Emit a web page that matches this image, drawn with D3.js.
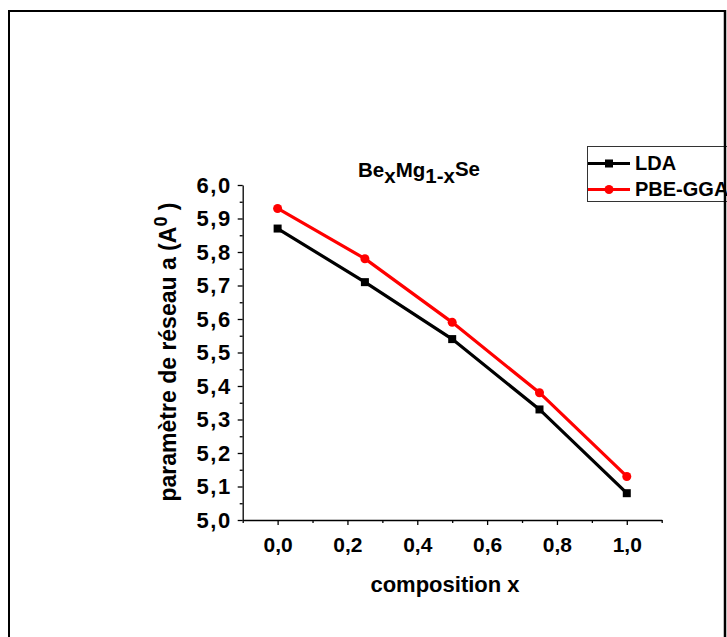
<!DOCTYPE html>
<html>
<head>
<meta charset="utf-8">
<script src="https://cdn.jsdelivr.net/npm/d3@7"></script>
<style>
body { margin: 0; background: #fff; }
svg { display: block; font-family: Arial, "Liberation Sans", sans-serif; }
</style>
</head>
<body>
<svg width="727" height="637"></svg>
<script>
// composition x
var compositions = [0.0, 0.25, 0.5, 0.75, 1.0];
// lattice parameter a, LDA and PBE-GGA
var ldaValues = [5.87, 5.71, 5.54, 5.33, 5.08];
var ggaValues = [5.93, 5.78, 5.59, 5.38, 5.13];
var seriesNames = ["LDA", "PBE-GGA"];
var xTicks = [0, 0.2, 0.4, 0.6, 0.8, 1.0];
var yTicks = [5.0, 5.1, 5.2, 5.3, 5.4, 5.5, 5.6, 5.7, 5.8, 5.9, 6.0];

var svg = d3.select("svg");

// outer frame (bottom edge falls outside the picture)
svg.append("rect")
  .attr("x", 9).attr("y", 11)
  .attr("width", 716).attr("height", 700)
  .attr("fill", "none").attr("stroke", "#000").attr("stroke-width", 2);

var xScale = d3.scaleLinear().domain([-0.1, 1.1]).range([242.7, 661.7]);
var yScale = d3.scaleLinear().domain([5.0, 6.0]).range([520, 185]);

var fmt = function(d) { return d3.format(".1f")(d).replace(".", ","); };

// x axis
var gx = svg.append("g").attr("transform", "translate(0,520)")
  .call(d3.axisBottom(xScale).tickValues(xTicks).tickFormat(fmt).tickSize(5).tickSizeOuter(0).tickPadding(12));
svg.append("g").attr("transform", "translate(0,520)")
  .call(d3.axisBottom(xScale).tickValues(d3.range(-0.1, 1.15, 0.2)).tickFormat("").tickSize(3).tickSizeOuter(0))
  .select(".domain").remove();

// y axis
var gy = svg.append("g").attr("transform", "translate(242.7,0)")
  .call(d3.axisLeft(yScale).tickValues(yTicks).tickFormat(fmt).tickSize(5).tickSizeOuter(0).tickPadding(6));
svg.append("g").attr("transform", "translate(242.7,0)")
  .call(d3.axisLeft(yScale).tickValues(d3.range(5.05, 6.0, 0.1)).tickFormat("").tickSize(3).tickSizeOuter(0))
  .select(".domain").remove();

svg.selectAll(".domain, .tick line").attr("stroke", "#000").attr("stroke-width", 1.3);
svg.selectAll(".tick text")
  .attr("fill", "#000")
  .style("font-weight", "bold")
  .style("font-family", "Arial, 'Liberation Sans', sans-serif");
gx.selectAll(".tick text").style("font-size", "21px");
gy.selectAll(".tick text").style("font-size", "22px").style("letter-spacing", "1.5px");

// axis titles
svg.append("text")
  .attr("x", 445).attr("y", 592)
  .attr("text-anchor", "middle")
  .style("font-size", "22px").style("font-weight", "bold")
  .text("composition x");

var yt = svg.append("text")
  .attr("transform", "translate(176,352) rotate(-90)")
  .attr("text-anchor", "middle")
  .style("font-size", "23px").style("font-weight", "bold");
yt.append("tspan").text("paramètre de réseau a (A");
yt.append("tspan").attr("dy", -9).style("font-size", "18px").text("0");
yt.append("tspan").attr("dy", 9).text(" )");

// chart title
var title = svg.append("text")
  .attr("x", 358).attr("y", 177)
  .style("font-size", "20.5px").style("font-weight", "bold");
title.append("tspan").text("Be");
title.append("tspan").attr("dy", 6).text("x");
title.append("tspan").attr("dy", -6).text("Mg");
title.append("tspan").attr("dy", 6).text("1-x");
title.append("tspan").attr("dy", -7).text("Se");

// series
var series = [
  { name: seriesNames[0], values: ldaValues, color: "#000", marker: "square" },
  { name: seriesNames[1], values: ggaValues, color: "#f00", marker: "circle" }
];

var line = d3.line()
  .x(function(d) { return xScale(d[0]); })
  .y(function(d) { return yScale(d[1]); });

series.forEach(function(s) {
  var pts = compositions.map(function(c, i) { return [c, s.values[i]]; });
  svg.append("path")
    .datum(pts)
    .attr("d", line)
    .attr("fill", "none")
    .attr("stroke", s.color)
    .attr("stroke-width", 3.2);
  if (s.marker === "square") {
    svg.selectAll(null).data(pts).enter().append("rect")
      .attr("x", function(d) { return xScale(d[0]) - 4; })
      .attr("y", function(d) { return yScale(d[1]) - 4; })
      .attr("width", 8).attr("height", 8)
      .attr("fill", s.color);
  } else {
    svg.selectAll(null).data(pts).enter().append("circle")
      .attr("cx", function(d) { return xScale(d[0]); })
      .attr("cy", function(d) { return yScale(d[1]); })
      .attr("r", 4.5)
      .attr("fill", s.color);
  }
});

// legend
var legend = svg.append("g");
legend.append("rect")
  .attr("x", 587.5).attr("y", 146.5)
  .attr("width", 150).attr("height", 55)
  .attr("fill", "#fff").attr("stroke", "#333").attr("stroke-width", 1);

series.forEach(function(s, i) {
  var ly = 163.5 + i * 26;
  legend.append("line")
    .attr("x1", 588).attr("x2", 630)
    .attr("y1", ly).attr("y2", ly)
    .attr("stroke", s.color).attr("stroke-width", 3.2);
  if (s.marker === "square") {
    legend.append("rect").attr("x", 605).attr("y", ly - 4).attr("width", 8).attr("height", 8).attr("fill", s.color);
  } else {
    legend.append("circle").attr("cx", 609).attr("cy", ly).attr("r", 4.5).attr("fill", s.color);
  }
  legend.append("text")
    .attr("x", 635).attr("y", ly + 6.5)
    .style("font-size", "20px").style("font-weight", "bold")
    .text(s.name);
});

// right edge of the frame drawn over the legend
svg.append("line")
  .attr("x1", 725).attr("x2", 725).attr("y1", 10).attr("y2", 637)
  .attr("stroke", "#000").attr("stroke-width", 2.5);
</script>
</body>
</html>
